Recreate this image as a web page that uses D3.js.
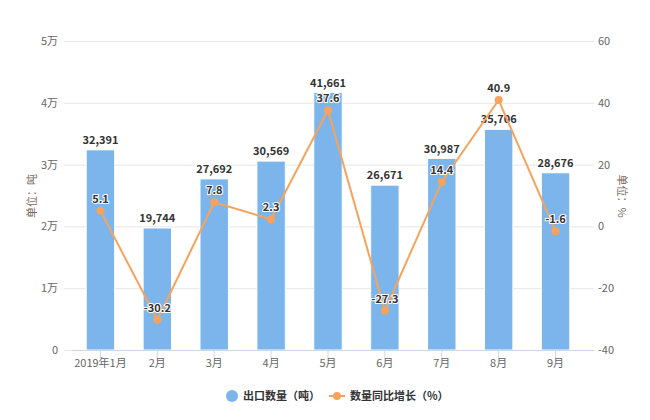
<!DOCTYPE html>
<html><head><meta charset="utf-8">
<script src="https://cdn.jsdelivr.net/npm/d3@7"></script>
<style>
body{margin:0;background:#fff;}
svg{display:block;font-family:"Noto Sans CJK SC","Noto Sans",sans-serif;}
</style></head>
<body><svg id="c" width="650" height="420"></svg>
<script>
const categories = ["2019年1月","2月","3月","4月","5月","6月","7月","8月","9月"];
const exportQty = [32391,19744,27692,30569,41661,26671,30987,35706,28676];
const growth = [5.1,-30.2,7.8,2.3,37.6,-27.3,14.4,40.9,-1.6];
const leftTicks = [0,10000,20000,30000,40000,50000];
const leftTickLabels = ["0","1万","2万","3万","4万","5万"];
const rightTicks = [-40,-20,0,20,40,60];

const svg = d3.select("#c");
const plotTop = 41, plotBottom = 350, plotLeft = 72, plotRight = 584;
const x = d3.scaleBand().domain(categories).range([plotLeft, plotRight]).paddingInner(0.5).paddingOuter(0.25);
const yL = d3.scaleLinear().domain([0,50000]).range([plotBottom, plotTop]);
const yR = d3.scaleLinear().domain([-40,60]).range([plotBottom, plotTop]);

// gridlines
svg.append("g").selectAll("line").data(leftTicks).join("line")
  .attr("x1",64).attr("x2",594).attr("y1",d=>yL(d)+0.5).attr("y2",d=>yL(d)+0.5)
  .attr("stroke","#e6e6e6").attr("stroke-width",1);

// left axis labels
svg.append("g").selectAll("text").data(leftTicks).join("text")
  .attr("x",58).attr("y",d=>yL(d)+4).attr("text-anchor","end")
  .attr("font-size",11).attr("fill","#666").text((d,i)=>leftTickLabels[i]);
// right axis labels
svg.append("g").selectAll("text").data(rightTicks).join("text")
  .attr("x",598).attr("y",d=>yR(d)+4).attr("text-anchor","start")
  .attr("font-size",11).attr("fill","#666").text(d=>d);

// axis titles
svg.append("text").attr("transform","translate(36,196) rotate(-90)").attr("text-anchor","middle")
  .attr("font-size",11).attr("fill","#7a6a60").text("单位：吨");
svg.append("text").attr("transform","translate(618,196) rotate(90)").attr("text-anchor","middle")
  .attr("font-size",11).attr("fill","#7a6a60").text("单位：%");

// bars
svg.append("g").selectAll("rect").data(exportQty).join("rect")
  .attr("x",(d,i)=>x(categories[i])).attr("width",x.bandwidth())
  .attr("y",d=>yL(d)).attr("height",d=>plotBottom-yL(d))
  .attr("fill","#7cb5ec").attr("stroke","#fff").attr("stroke-width",1);

// x axis
svg.append("line").attr("x1",plotLeft).attr("x2",594).attr("y1",plotBottom+0.5).attr("y2",plotBottom+0.5)
  .attr("stroke","#ccd6eb");
svg.append("g").selectAll("line").data(categories).join("line")
  .attr("x1",d=>x(d)+x.bandwidth()/2).attr("x2",d=>x(d)+x.bandwidth()/2)
  .attr("y1",plotBottom).attr("y2",plotBottom+8).attr("stroke","#ccd6eb");
svg.append("g").selectAll("text").data(categories).join("text")
  .attr("x",d=>x(d)+x.bandwidth()/2).attr("y",plotBottom+17).attr("text-anchor","middle")
  .attr("font-size",11).attr("fill","#666").text(d=>d);

// bar labels
svg.append("g").selectAll("text").data(exportQty).join("text")
  .attr("x",(d,i)=>x(categories[i])+x.bandwidth()/2).attr("y",d=>yL(d)-6)
  .attr("text-anchor","middle").attr("font-size",11).attr("font-weight","bold")
  .attr("fill","#333").attr("stroke","#fff").attr("stroke-width",2).attr("paint-order","stroke")
  .text(d=>d3.format(",")(d));

// line
const cx = i => x(categories[i])+x.bandwidth()/2;
svg.append("path").datum(growth)
  .attr("d",d3.line().x((d,i)=>cx(i)).y(d=>yR(d)))
  .attr("fill","none").attr("stroke","#f7a35c").attr("stroke-width",2);
svg.append("g").selectAll("circle").data(growth).join("circle")
  .attr("cx",(d,i)=>cx(i)).attr("cy",d=>yR(d)).attr("r",4).attr("fill","#f7a35c");
svg.append("g").selectAll("text").data(growth).join("text")
  .attr("x",(d,i)=>cx(i)).attr("y",d=>yR(d)-8)
  .attr("text-anchor","middle").attr("font-size",11).attr("font-weight","bold")
  .attr("fill","#333").attr("stroke","#fff").attr("stroke-width",2).attr("paint-order","stroke")
  .text(d=>d);

// legend
const lg = svg.append("g");
lg.append("circle").attr("cx",232).attr("cy",396).attr("r",6).attr("fill","#7cb5ec");
lg.append("text").attr("x",243).attr("y",400).attr("font-size",11).attr("fill","#333").attr("font-weight","bold").text("出口数量（吨）");
lg.append("line").attr("x1",329).attr("x2",345).attr("y1",396).attr("y2",396).attr("stroke","#f7a35c").attr("stroke-width",2);
lg.append("circle").attr("cx",337).attr("cy",396).attr("r",4).attr("fill","#f7a35c");
lg.append("text").attr("x",350).attr("y",400).attr("font-size",11).attr("fill","#333").attr("font-weight","bold").text("数量同比增长（%）");
</script></body></html>
